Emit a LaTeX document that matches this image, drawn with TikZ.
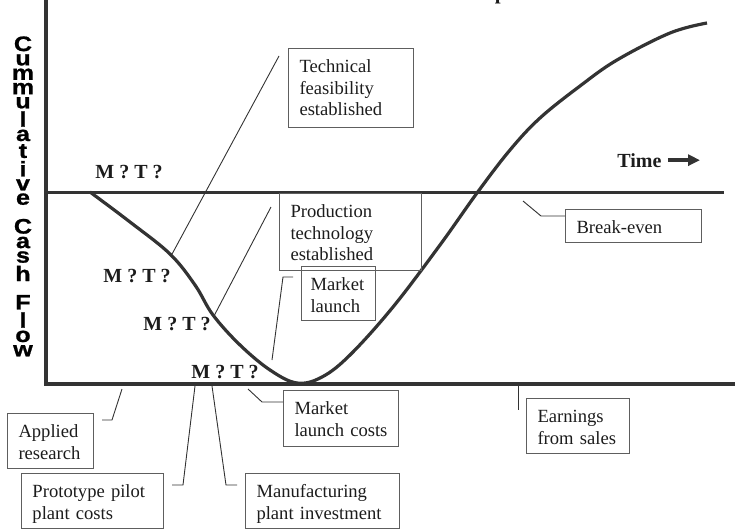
\documentclass[tikz,border=0pt]{standalone}
\usepackage{fontspec}
\setmainfont{Liberation Serif}
\newfontfamily\ysfont{Liberation Sans}[FakeStretch=1.2, FakeBold=1]
\usetikzlibrary{arrows.meta}
\definecolor{axisgray}{HTML}{333333}
\definecolor{boxgray}{HTML}{5E5E5E}
\definecolor{inkgray}{HTML}{1C1C1C}
\newcommand{\stackgap}{\rule{0pt}{4pt}}
\newcommand{\letterstack}[1]{\vbox{\baselineskip=0pt\lineskiplimit=0pt\lineskip=1.5pt
        \halign{\hfil##\hfil\cr#1\crcr}}}
\begin{document}
\begin{tikzpicture}[x=0.5pt, y=-0.5pt,
        axis/.style={draw=axisgray, line width=2pt},
        curve/.style={draw=axisgray, line width=1.6pt, line join=round},
        lbl/.style={draw=boxgray, line width=0.5pt, anchor=north west, align=left,
                inner xsep=5.5pt, inner ysep=0pt, text height=12pt, text=inkgray,
                font=\fontsize{9.3pt}{10.75pt}\selectfont},
        leader/.style={draw=axisgray, line width=0.45pt},
        mt/.style={anchor=base west, inner sep=0pt, text=inkgray,
                font=\fontsize{10pt}{12pt}\selectfont\bfseries}]
        \useasboundingbox (0,0) rectangle (735,530);

        % cut title at the top
        \node[anchor=base, inner sep=0pt, text=inkgray, font=\fontsize{10.5pt}{12pt}\selectfont\bfseries]
                (title) at (360,-1) {What are the M and T issues at that point?};

        % axes and break-even line
        \draw[axis] (46,-5) -- (46,384) -- (735,384);
        \draw[draw=axisgray, line width=1.5pt] (46,192.5) -- (724,192.5);

        % vertical label
        \node[anchor=north, inner sep=0pt, text=black, font=\ysfont\bfseries\fontsize{10.5pt}{12pt}\selectfont]
                (ylabel) at (23,36)
                {\letterstack{C\cr u\cr m\cr m\cr u\cr l\cr a\cr t\cr i\cr v\cr e\cr \stackgap\cr
                        C\cr a\cr s\cr h\cr \stackgap\cr F\cr l\cr o\cr w}};

        % cash flow curve
        \draw[curve] plot[smooth, tension=0.6] coordinates {(90,192) (130,222) (170,254) (195,285)
                (213,315) (240,345) (270,370) (297,383) (322,377) (350,355) (393,307) (440,245)
                (477,193) (510,150) (540,118) (580,86) (617,60) (670,33) (707,23)};

        % M ? T ? labels
        \node[mt] (mt1) at (95,178) {M ? T ?};
        \node[mt] (mt2) at (103,282) {M ? T ?};
        \node[mt] (mt3) at (143,330) {M ? T ?};
        \node[mt] (mt4) at (191,378) {M ? T ?};

        % time
        \node[mt] (time) at (617,167) {Time};
        \coordinate (tend) at (700,162);
        \draw[draw=axisgray, line width=2pt, -{Triangle[length=6pt, width=5.5pt]}]
                ([xshift=3pt]time.east) -- (time.east -| tend);

        % label boxes
        \node[lbl, text width=51.5pt, text depth=27.5pt] (tech) at (288,48)
                {Technical\\feasibility\\established};
        \node[lbl, text width=60pt, text depth=26.5pt] (prod) at (279,193)
                {Production\\technology\\established};
        \node[lbl, text width=28pt, inner xsep=4.5pt, text depth=15pt] (launch) at (301,266)
                {Market\\launch};
        \node[lbl, text width=57pt, text depth=4.5pt] (breakeven) at (565,209) {Break-even};
        \node[lbl, text width=40.5pt, text depth=15.5pt] (earnings) at (526,398)
                {Earnings\\from sales};
        \node[lbl, text width=46.5pt, text depth=16pt] (lcosts) at (283,390)
                {Market\\launch costs};
        \node[lbl, text width=32pt, text depth=15.5pt] (applied) at (7,413)
                {Applied\\research};
        \node[lbl, text width=60pt, text depth=15.5pt] (proto) at (21,473)
                {Prototype pilot\\plant costs};
        \node[lbl, text width=66pt, text depth=15.5pt] (manuf) at (245,473)
                {Manufacturing\\plant investment};

        % leader lines
        \coordinate (ctech) at (171,256);
        \coordinate (etech) at (279,56);
        \coordinate (cprod) at (214,316);
        \coordinate (eprod) at (271,207);
        \coordinate (claunch) at (272,360);
        \coordinate (claunchk) at (283,277);
        \coordinate (cbreak) at (523,201);
        \coordinate (cbreakk) at (541,216);
        \coordinate (cearn) at (518,384);
        \coordinate (eearn) at (518,410);
        \coordinate (clcost) at (248,389);
        \coordinate (clcostk) at (262,402);
        \coordinate (capp) at (122,389);
        \coordinate (cappk) at (112,420);
        \coordinate (cproto) at (195,386);
        \coordinate (cprotok) at (183,485);
        \coordinate (cmanuf) at (212,386);
        \coordinate (cmanufk) at (226,485);
        \draw[leader] (ctech) -- (etech);
        \draw[leader] (cprod) -- (eprod);
        \draw[leader] (claunch) -- (claunchk) -- ++(10,0);
        \draw[leader] (cbreak) -- (cbreakk) -- (cbreakk -| breakeven.west);
        \draw[leader] (cearn) -- (eearn);
        \draw[leader] (clcost) -- (clcostk) -- (clcostk -| lcosts.west);
        \draw[leader] (capp) -- (cappk) -- ++(-10,0);
        \draw[leader] (cproto) -- (cprotok) -- ++(-11,0);
        \draw[leader] (cmanuf) -- (cmanufk) -- ++(11,0);
\end{tikzpicture}
\end{document}
